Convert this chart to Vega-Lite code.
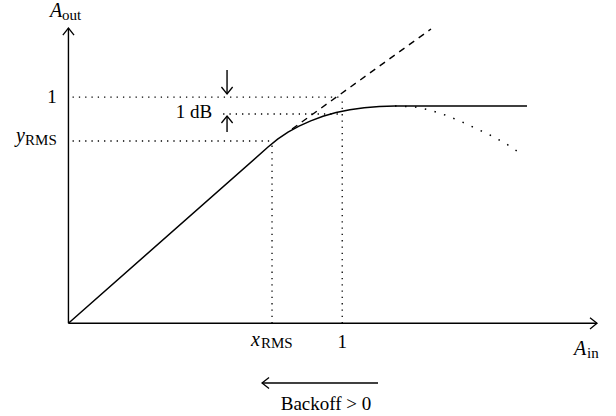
{
  "$schema": "https://vega.github.io/schema/vega-lite/v6.json",
  "width": 616,
  "height": 416,
  "autosize": {"type": "none"},
  "padding": 0,
  "background": "white",
  "config": {"view": {"stroke": null}},
  "datasets": {
    "segs": [
      {"kind": "solid", "x": 0, "y": 0, "x2": 0, "y2": 1.306},
      {"kind": "solid", "x": 0, "y": 0, "x2": 1.9306, "y2": 0},
      {"kind": "solid", "x": 0.5793, "y": 1.1203, "x2": 0.5793, "y2": 1.0142},
      {"kind": "solid", "x": 0.5793, "y": 0.8461, "x2": 0.5793, "y2": 0.9168},
      {"kind": "solid", "x": 0.7071, "y": -0.264, "x2": 1.1307, "y2": -0.264},
      {"kind": "dotted", "x": 0.015, "y": 1, "x2": 1, "y2": 1},
      {"kind": "dotted", "x": 0.565, "y": 0.9257, "x2": 1, "y2": 0.9257},
      {"kind": "dotted", "x": 0.015, "y": 0.8063, "x2": 0.7436, "y2": 0.8063},
      {"kind": "dotted", "x": 0.7436, "y": 0, "x2": 0.7436, "y2": 0.8063},
      {"kind": "dotted", "x": 1, "y": 0, "x2": 1, "y2": 1}
    ],
    "curves": [
      {"series": "solid", "x": 0, "y": 0},
      {"series": "solid", "x": 0.729, "y": 0.7797},
      {"series": "solid", "x": 0.7641, "y": 0.8142},
      {"series": "solid", "x": 0.802, "y": 0.8452},
      {"series": "solid", "x": 0.8422, "y": 0.8722},
      {"series": "solid", "x": 0.885, "y": 0.8956},
      {"series": "solid", "x": 0.9299, "y": 0.9157},
      {"series": "solid", "x": 0.9777, "y": 0.9321},
      {"series": "solid", "x": 1.0278, "y": 0.9447},
      {"series": "solid", "x": 1.0803, "y": 0.9538},
      {"series": "solid", "x": 1.1355, "y": 0.9593},
      {"series": "solid", "x": 1.1928, "y": 0.9611},
      {"series": "solid", "x": 1.6749, "y": 0.9611},
      {"series": "dashed", "x": 0.8167, "y": 0.8594},
      {"series": "dashed", "x": 1.3243, "y": 1.3016},
      {"series": "dotted", "x": 1.1928, "y": 0.9611},
      {"series": "dotted", "x": 1.2659, "y": 0.9567},
      {"series": "dotted", "x": 1.3207, "y": 0.9434},
      {"series": "dotted", "x": 1.3755, "y": 0.9213},
      {"series": "dotted", "x": 1.4303, "y": 0.8947},
      {"series": "dotted", "x": 1.485, "y": 0.8638},
      {"series": "dotted", "x": 1.5398, "y": 0.8328},
      {"series": "dotted", "x": 1.5946, "y": 0.7974},
      {"series": "dotted", "x": 1.6384, "y": 0.762}
    ],
    "arrows": [
      {"dir": "up", "x": 0, "y": 1.306},
      {"dir": "up", "x": 0.5793, "y": 0.9168},
      {"dir": "right", "x": 1.9306, "y": 0},
      {"dir": "down", "x": 0.5793, "y": 1.0142},
      {"dir": "left", "x": 0.7071, "y": -0.264}
    ],
    "labels": [
      {"role": "italic", "text": "A", "x": -0.0672, "y": 1.3547},
      {"role": "sub", "text": "out", "x": -0.0234, "y": 1.3414},
      {"role": "plain", "text": "1", "x": -0.0599, "y": 0.9743},
      {"role": "italic", "text": "y", "x": -0.1914, "y": 0.8019},
      {"role": "sub", "text": "RMS", "x": -0.1585, "y": 0.7886},
      {"role": "plain", "text": "1 dB", "x": 0.4587, "y": 0.908},
      {"role": "italic", "text": "x", "x": 0.6669, "y": -0.1004},
      {"role": "sub", "text": "RMS", "x": 0.7034, "y": -0.1092},
      {"role": "plain", "text": "1", "x": 1.0, "y": -0.1092},
      {"role": "italic", "text": "A", "x": 1.8466, "y": -0.1402},
      {"role": "sub", "text": "in", "x": 1.8941, "y": -0.1535},
      {"role": "plain", "text": "Backoff > 0", "x": 0.9408, "y": -0.3835}
    ]
  },
  "encoding": {
    "x": {"field": "x", "type": "quantitative", "scale": {"domain": [-0.25, 2.0], "nice": false, "zero": false}, "axis": null},
    "y": {"field": "y", "type": "quantitative", "scale": {"domain": [-0.41, 1.43], "nice": false, "zero": false}, "axis": null}
  },
  "layer": [
    {
      "data": {"name": "segs"},
      "transform": [{"filter": "datum.kind == 'solid'"}],
      "mark": {"type": "rule", "color": "black", "strokeWidth": 1.4},
      "encoding": {"x2": {"field": "x2"}, "y2": {"field": "y2"}}
    },
    {
      "data": {"name": "segs"},
      "transform": [{"filter": "datum.kind == 'dotted'"}],
      "mark": {"type": "rule", "color": "black", "strokeWidth": 1.3, "strokeDash": [1.3, 5]},
      "encoding": {"x2": {"field": "x2"}, "y2": {"field": "y2"}}
    },
    {
      "data": {"name": "curves"},
      "transform": [{"filter": "datum.series == 'solid'"}],
      "mark": {"type": "line", "color": "black", "strokeWidth": 1.5},
      "encoding": {}
    },
    {
      "data": {"name": "curves"},
      "transform": [{"filter": "datum.series == 'dashed'"}],
      "mark": {"type": "line", "color": "black", "strokeWidth": 1.4, "strokeDash": [6.5, 5.5]},
      "encoding": {}
    },
    {
      "data": {"name": "curves"},
      "transform": [{"filter": "datum.series == 'dotted'"}],
      "mark": {"type": "line", "color": "black", "strokeWidth": 1.5, "strokeDash": [1.5, 8.5]},
      "encoding": {}
    },
    {
      "data": {"name": "arrows"},
      "transform": [{"filter": "datum.dir == 'right'"}],
      "mark": {"type": "point", "shape": "M -1 -0.8 L 0 0 L -1 0.8", "size": 196, "filled": false, "color": "black", "strokeWidth": 1.3, "opacity": 1, "angle": 0}
    },
    {
      "data": {"name": "arrows"},
      "transform": [{"filter": "datum.dir == 'up'"}],
      "mark": {"type": "point", "shape": "M -1 -0.8 L 0 0 L -1 0.8", "size": 196, "filled": false, "color": "black", "strokeWidth": 1.3, "opacity": 1, "angle": 270}
    },
    {
      "data": {"name": "arrows"},
      "transform": [{"filter": "datum.dir == 'down'"}],
      "mark": {"type": "point", "shape": "M -1 -0.8 L 0 0 L -1 0.8", "size": 196, "filled": false, "color": "black", "strokeWidth": 1.3, "opacity": 1, "angle": 90}
    },
    {
      "data": {"name": "arrows"},
      "transform": [{"filter": "datum.dir == 'left'"}],
      "mark": {"type": "point", "shape": "M -1 -0.8 L 0 0 L -1 0.8", "size": 196, "filled": false, "color": "black", "strokeWidth": 1.3, "opacity": 1, "angle": 180}
    },
    {
      "data": {"name": "labels"},
      "transform": [{"filter": "datum.role == 'italic'"}],
      "mark": {"type": "text", "font": "Liberation Serif", "fontSize": 20, "fontStyle": "italic", "align": "left", "baseline": "alphabetic", "color": "black"},
      "encoding": {"text": {"field": "text"}}
    },
    {
      "data": {"name": "labels"},
      "transform": [{"filter": "datum.role == 'plain'"}],
      "mark": {"type": "text", "font": "Liberation Serif", "fontSize": 19, "align": "center", "baseline": "alphabetic", "color": "black"},
      "encoding": {"text": {"field": "text"}}
    },
    {
      "data": {"name": "labels"},
      "transform": [{"filter": "datum.role == 'sub'"}],
      "mark": {"type": "text", "font": "Liberation Serif", "fontSize": 15, "align": "left", "baseline": "alphabetic", "color": "black"},
      "encoding": {"text": {"field": "text"}}
    }
  ]
}
